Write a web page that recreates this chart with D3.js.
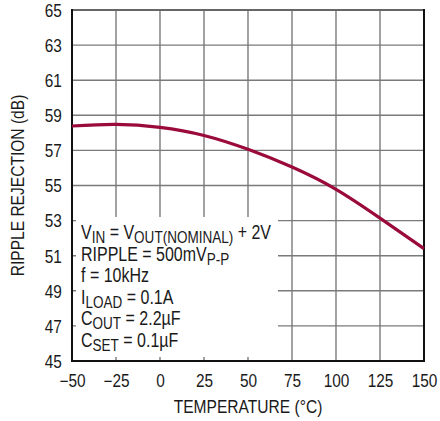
<!DOCTYPE html>
<html>
<head>
<meta charset="utf-8">
<script src="https://cdn.jsdelivr.net/npm/d3@7"></script>
<style>
  html, body { margin: 0; padding: 0; background: #fff; }
  svg text { font-family: "Liberation Sans", Arial, Helvetica, sans-serif; fill: #1a1a1a; }
</style>
</head>
<body>
<svg id="chart" width="440" height="421"></svg>
<script>
// ---- data ----
const temperature = [-50, -25, 0, 25, 50, 75, 100, 125, 150];
const rejection   = [58.39, 58.48, 58.31, 57.85, 57.06, 56.05, 54.78, 53.14, 51.40];
const xTicks = [-50, -25, 0, 25, 50, 75, 100, 125, 150];
const yTicks = [45, 47, 49, 51, 53, 55, 57, 59, 61, 63, 65];
const xTitle = "TEMPERATURE (°C)";
const yTitle = "RIPPLE REJECTION (dB)";
const notes = [
  [["V", ""], ["IN", "sub"], [" = V", ""], ["OUT(NOMINAL)", "sub"], [" + 2V", ""]],
  [["RIPPLE = 500mV", ""], ["P-P", "sub"]],
  [["f = 10kHz", ""]],
  [["I", ""], ["LOAD", "sub"], [" = 0.1A", ""]],
  [["C", ""], ["OUT", "sub"], [" = 2.2µF", ""]],
  [["C", ""], ["SET", "sub"], [" = 0.1µF", ""]]
];

// ---- layout ----
const L = 72, R = 424, T = 10, B = 361;
const SX = 0.82; // horizontal condensing to mimic a condensed face
const svg = d3.select("#chart");
const x = d3.scaleLinear().domain([-50, 150]).range([L, R]);
const y = d3.scaleLinear().domain([45, 65]).range([B, T]);

// grid
const grid = svg.append("g");
grid.selectAll("line.v").data(xTicks.slice(1, -1)).enter().append("line")
  .attr("x1", d => x(d)).attr("x2", d => x(d)).attr("y1", T).attr("y2", B)
  .attr("stroke", "#7a7a7a").attr("stroke-width", 1.4);
grid.selectAll("line.h").data(yTicks.slice(1, -1)).enter().append("line")
  .attr("x1", L).attr("x2", R).attr("y1", d => y(d)).attr("y2", d => y(d))
  .attr("stroke", "#7a7a7a").attr("stroke-width", 1.4);

// annotation box background
svg.append("rect").attr("x", L + 4).attr("y", 217).attr("width", 202).attr("height", B - 4 - 217)
  .attr("fill", "#fff");

// frame
svg.append("line").attr("x1", L).attr("x2", R).attr("y1", T).attr("y2", T).attr("stroke", "#666").attr("stroke-width", 1.8);
svg.append("line").attr("x1", L).attr("x2", L).attr("y1", T - 1).attr("y2", B + 1).attr("stroke", "#111").attr("stroke-width", 2);
svg.append("line").attr("x1", R).attr("x2", R).attr("y1", T - 1).attr("y2", B + 1).attr("stroke", "#111").attr("stroke-width", 2);
svg.append("line").attr("x1", L - 1).attr("x2", R + 1).attr("y1", B).attr("y2", B).attr("stroke", "#111").attr("stroke-width", 2);

// curve
const line = d3.line().x((d, i) => x(temperature[i])).y(d => y(d)).curve(d3.curveNatural);
svg.append("path").datum(rejection).attr("d", line)
  .attr("fill", "none").attr("stroke", "#9a0a3a").attr("stroke-width", 3.2);

// axes (labels only)
const xAxis = d3.axisBottom(x).tickValues(xTicks).tickSize(0).tickPadding(0)
  .tickFormat(d => d < 0 ? "\u2212" + Math.abs(d) : String(d));
const gx = svg.append("g").attr("transform", `translate(0,${B})`).call(xAxis);
gx.select(".domain").remove();
gx.attr("font-family", null).attr("font-size", null);
gx.selectAll("text").attr("dy", null).attr("y", 26).attr("transform", "scale(0.88,1)")
  .style("font-size", "17.5px").attr("fill", "#1a1a1a");

const yAxis = d3.axisLeft(y).tickValues(yTicks).tickSize(0).tickPadding(0);
const gy = svg.append("g").attr("transform", `translate(${L},0)`).call(yAxis);
gy.select(".domain").remove();
gy.attr("font-family", null).attr("font-size", null);
gy.selectAll("text").attr("x", -11.5).attr("dy", "0.36em").attr("transform", "scale(0.88,1)")
  .style("font-size", "17.5px").attr("fill", "#1a1a1a");

// titles
svg.append("text").attr("transform", `translate(${(L + R) / 2},413) scale(${SX},1)`).attr("text-anchor", "middle")
  .style("font-size", "19px").text(xTitle);
svg.append("text").attr("transform", `translate(24,${(T + B) / 2}) rotate(-90) scale(${SX},1)`).attr("text-anchor", "middle")
  .style("font-size", "19px").text(yTitle);

// annotation text
notes.forEach((parts, i) => {
  const t = svg.append("text").attr("transform", `translate(81,${239 + i * 21.6}) scale(${SX},1)`)
    .style("font-size", "19.5px");
  let pending = 0;
  parts.forEach(([s, kind]) => {
    const ts = t.append("tspan").text(s);
    if (kind === "sub") {
      ts.attr("dy", 4 + pending).style("font-size", "16.5px");
      pending = -4;
    } else {
      if (pending) ts.attr("dy", pending);
      pending = 0;
    }
  });
});
</script>
</body>
</html>
